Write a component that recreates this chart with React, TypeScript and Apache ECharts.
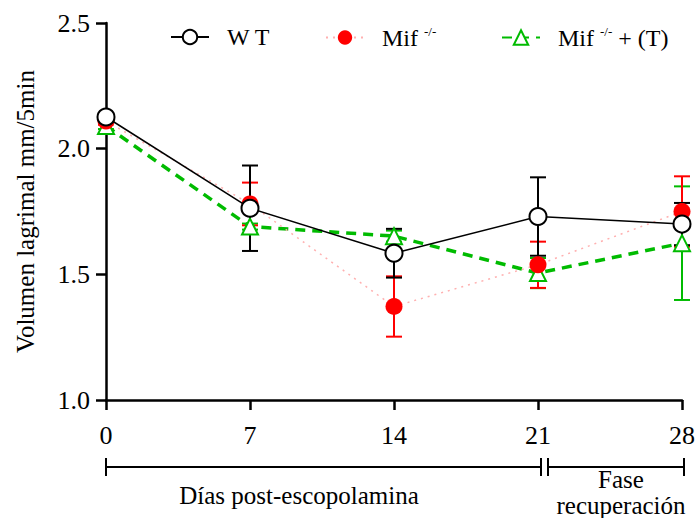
import React, { useEffect, useRef } from "react";
import * as echarts from "echarts";

const days = [0, 7, 14, 21, 28];
const yTicks = [1.0, 1.5, 2.0, 2.5];

const wtMean = [2.126, 1.763, 1.584, 1.73, 1.7];
const wtSem = [0.01, 0.17, 0.097, 0.156, 0.084];

const mifMean = [2.11, 1.78, 1.372, 1.538, 1.75];
const mifSem = [0.015, 0.085, 0.12, 0.092, 0.14];

const mifTMean = [2.09, 1.69, 1.652, 1.505, 1.624];
const mifTSem = [0.012, 0.012, 0.022, 0.06, 0.226];

const FONT = "'Liberation Serif', 'Times New Roman', serif";
const BLACK = "#000000";
const RED = "#ff0000";
const PINK = "#ffb0b0";
const GREEN = "#00bb00";

function errData(mean: number[], sem: number[]) {
  return days.map((d, i) => [d, mean[i] - sem[i], mean[i] + sem[i]]);
}

function errSeries(name: string, mean: number[], sem: number[], color: string, z: number) {
  return {
    name,
    type: "custom",
    z,
    clip: false,
    data: errData(mean, sem),
    renderItem: (_p: any, api: any) => {
      const x = api.value(0);
      const lo = api.coord([x, api.value(1)]);
      const hi = api.coord([x, api.value(2)]);
      const hw = 8;
      const style = { stroke: color, lineWidth: 2 };
      return {
        type: "group",
        children: [
          { type: "line", shape: { x1: lo[0], y1: lo[1], x2: hi[0], y2: hi[1] }, style },
          { type: "line", shape: { x1: lo[0] - hw, y1: lo[1], x2: lo[0] + hw, y2: lo[1] }, style },
          { type: "line", shape: { x1: hi[0] - hw, y1: hi[1], x2: hi[0] + hw, y2: hi[1] }, style },
        ],
      };
    },
  };
}

const richText = {
  g: { width: 13 },
  t: { fontFamily: FONT, fontSize: 24, fontWeight: "normal", color: BLACK },
  s: { fontFamily: FONT, fontSize: 13, fontWeight: "normal", color: BLACK, padding: [0, 0, 12, 0] },
};

function legendFor(name: string, left: number, fmt: string) {
  return {
    data: [name],
    left,
    top: 20,
    itemWidth: 38,
    itemHeight: 18,
    formatter: () => fmt,
    textStyle: { fontFamily: FONT, fontWeight: "normal", color: BLACK, rich: richText },
  };
}

function txt(text: string, x: number, y: number) {
  return {
    type: "text",
    x,
    y,
    style: {
      text,
      fontFamily: FONT,
      fontSize: 25,
      fill: BLACK,
      align: "center",
      verticalAlign: "middle",
    },
  };
}

export default function App() {
  const ref = useRef<HTMLDivElement>(null);
  useEffect(() => {
    if (!ref.current) return;
    const chart = echarts.init(ref.current, undefined, { renderer: "svg" });
    chart.setOption({
      animation: false,
      backgroundColor: "#ffffff",
      textStyle: { fontFamily: FONT },
      legend: [
        legendFor("WT", 165, "{g|}{t|W T}"),
        legendFor("Mif", 320, "{g|}{t|Mif }{s|-/-}"),
        legendFor("MifT", 496, "{g|}{t|Mif }{s|-/-}{t| + (T)}"),
      ],
      grid: { left: 106, right: 14, top: 23, bottom: 118 },
      xAxis: {
        type: "value",
        min: 0,
        max: 28,
        interval: 7,
        axisLine: { show: true, onZero: false, lineStyle: { color: BLACK, width: 2.5 } },
        axisTick: { show: true, length: 10, lineStyle: { color: BLACK, width: 2.5 } },
        splitLine: { show: false },
        axisLabel: { fontFamily: FONT, fontSize: 26, color: BLACK, margin: 22 },
      },
      yAxis: {
        type: "value",
        min: yTicks[0],
        max: yTicks[yTicks.length - 1],
        interval: 0.5,
        name: "Volumen lagrimal mm/5min",
        nameLocation: "middle",
        nameRotate: 90,
        nameGap: 68,
        nameTextStyle: { fontFamily: FONT, fontSize: 25, color: BLACK },
        axisLine: { show: true, lineStyle: { color: BLACK, width: 2.5 } },
        axisTick: { show: true, length: 10, lineStyle: { color: BLACK, width: 2.5 } },
        splitLine: { show: false },
        axisLabel: {
          fontFamily: FONT,
          fontSize: 26,
          color: BLACK,
          margin: 16,
          formatter: (v: number) => v.toFixed(1),
        },
      },
      series: [
        errSeries("errT", mifTMean, mifTSem, GREEN, 2),
        errSeries("errMif", mifMean, mifSem, RED, 3),
        errSeries("errWT", wtMean, wtSem, BLACK, 4),
        {
          name: "MifT",
          type: "line",
          z: 5,
          clip: false,
          data: days.map((d, i) => [d, mifTMean[i]]),
          symbol: "emptyTriangle",
          symbolSize: 16,
          itemStyle: { color: GREEN, borderWidth: 2 },
          lineStyle: { color: GREEN, width: 3.5, type: [10, 7] },
        },
        {
          name: "Mif",
          type: "line",
          z: 6,
          clip: false,
          data: days.map((d, i) => [d, mifMean[i]]),
          symbol: "circle",
          symbolSize: 17,
          itemStyle: { color: RED },
          lineStyle: { color: PINK, width: 1.5, type: [2, 5] },
        },
        {
          name: "WT",
          type: "line",
          z: 7,
          clip: false,
          data: days.map((d, i) => [d, wtMean[i]]),
          symbol: "emptyCircle",
          symbolSize: 17,
          itemStyle: { color: BLACK, borderWidth: 2 },
          lineStyle: { color: BLACK, width: 1.5 },
        },
      ],
      graphic: [
        { type: "line", shape: { x1: 106, y1: 467, x2: 541, y2: 467 }, style: { stroke: BLACK, lineWidth: 2 } },
        { type: "line", shape: { x1: 106, y1: 458, x2: 106, y2: 476 }, style: { stroke: BLACK, lineWidth: 2 } },
        { type: "line", shape: { x1: 541, y1: 458, x2: 541, y2: 476 }, style: { stroke: BLACK, lineWidth: 2 } },
        { type: "line", shape: { x1: 548, y1: 467, x2: 684, y2: 467 }, style: { stroke: BLACK, lineWidth: 2 } },
        { type: "line", shape: { x1: 548, y1: 458, x2: 548, y2: 476 }, style: { stroke: BLACK, lineWidth: 2 } },
        { type: "line", shape: { x1: 684, y1: 458, x2: 684, y2: 476 }, style: { stroke: BLACK, lineWidth: 2 } },
        txt("Días post-escopolamina", 299, 495),
        txt("Fase", 621, 479),
        txt("recuperación", 621, 505),
      ],
    });
    return () => chart.dispose();
  }, []);
  return <div ref={ref} style={{ position: "fixed", left: 0, top: 0, width: 698, height: 518 }} />;
}
